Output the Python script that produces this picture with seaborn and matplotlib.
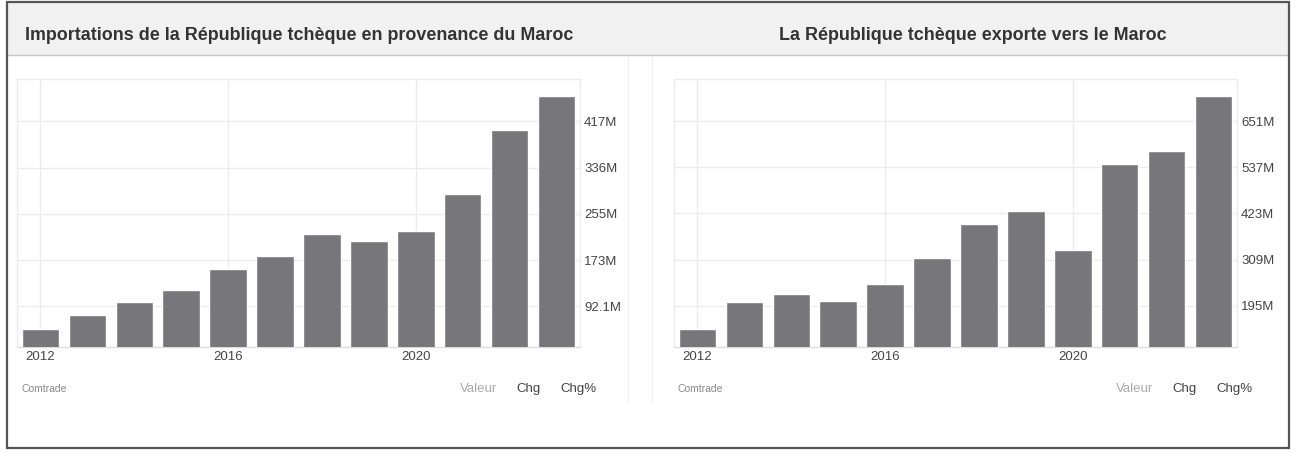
import matplotlib
matplotlib.use("Agg")
import matplotlib.pyplot as plt
from matplotlib.patches import Rectangle
from matplotlib.lines import Line2D
import seaborn as sns

years = [str(y) for y in range(2012, 2024)]

# importations (millions USD)
imports_vals = [52.6, 76.8, 100.2, 120.8, 157.8, 180.2, 219.5, 207.2, 224.8, 290.0, 402.7, 461.4]
imports_ticks = [92.1, 173.4, 254.7, 336.0, 417.3]
imports_ticklabels = ["92.1M", "173M", "255M", "336M", "417M"]

# exportations (millions USD)
exports_vals = [138.0, 203.3, 223.9, 207.4, 247.9, 313.1, 398.2, 429.6, 333.0, 546.1, 576.6, 713.7]
exports_ticks = [195, 309, 423, 537, 651]
exports_ticklabels = ["195M", "309M", "423M", "537M", "651M"]

year_labels = ["2012", "2016", "2020"]

titles = ["Importations de la République tchèque en provenance du Maroc",
          "La République tchèque exporte vers le Maroc"]

sns.set_style("white")
plt.rcParams['font.family'] = ['Liberation Sans', 'DejaVu Sans']

W, H = 1297, 453
fig = plt.figure(figsize=(W / 100, H / 100), dpi=100)


def fx(px):
    return px / W


def fy(py):
    return 1 - py / H


bar_color = "#77777b"
grid_color = "#ececec"
text_color = "#444444"

# header band + border
fig.patches.append(Rectangle((fx(8), fy(55)), fx(1281), 53 / H, transform=fig.transFigure,
                             facecolor="#f1f1f1", edgecolor="none", zorder=0))
fig.lines.append(Line2D([fx(8), fx(1289)], [fy(55), fy(55)], transform=fig.transFigure,
                        color="#c6c6c6", lw=1))
for xd in (628, 652):
    fig.lines.append(Line2D([fx(xd), fx(xd)], [fy(57), fy(402)], transform=fig.transFigure,
                            color="#f0f0f0", lw=1))
fig.patches.append(Rectangle((fx(7), fy(448)), fx(1282), 446 / H, transform=fig.transFigure,
                             facecolor="none", edgecolor="#555555", lw=1.6, zorder=5))

fig.text(fx(25), fy(35), titles[0], ha="left", va="center", fontsize=12.9,
         fontweight="bold", color="#333333")
fig.text(fx(973), fy(35), titles[1], ha="center", va="center", fontsize=12.9,
         fontweight="bold", color="#333333")

panels = [
    (17, imports_vals, imports_ticks, imports_ticklabels, (20.9, 491.7), 22, (460, 516, 560)),
    (674, exports_vals, exports_ticks, exports_ticklabels, (93.4, 755.0), 678, (1116, 1172, 1216)),
]

for left, vals, ticks, ticklabels, ylim, src_x, btn_x in panels:
    ax = fig.add_axes([fx(left), fy(347), fx(563), 268 / H])
    sns.barplot(x=years, y=vals, color=bar_color, saturation=1, width=0.8, ax=ax, zorder=3)
    ax.set_ylim(*ylim)
    ax.set_xlim(-0.5, len(years) - 0.5)
    ax.set_xticks([years.index(y) for y in year_labels])
    ax.set_xticklabels(year_labels)
    ax.yaxis.tick_right()
    ax.set_yticks(ticks)
    ax.set_yticklabels(ticklabels)
    ax.tick_params(axis="both", length=0, labelsize=9.5, labelcolor=text_color)
    ax.tick_params(axis="x", pad=3)
    ax.tick_params(axis="y", pad=3)
    ax.grid(True, color=grid_color, lw=1, zorder=0)
    ax.set_axisbelow(True)
    ax.set_xlabel("")
    ax.set_ylabel("")
    for side, sp in ax.spines.items():
        sp.set_color(grid_color)
        sp.set_linewidth(1)
    ax.spines["bottom"].set_color("#dddddd")

    fig.text(fx(src_x), fy(389), "Comtrade", ha="left", va="center", fontsize=7.5, color="#888888")
    fig.text(fx(btn_x[0]), fy(389), "Valeur", ha="left", va="center", fontsize=9.5, color="#aaaaaa")
    fig.text(fx(btn_x[1]), fy(389), "Chg", ha="left", va="center", fontsize=9.5, color=text_color)
    fig.text(fx(btn_x[2]), fy(389), "Chg%", ha="left", va="center", fontsize=9.5, color=text_color)

fig.savefig("out.png", dpi=100)
